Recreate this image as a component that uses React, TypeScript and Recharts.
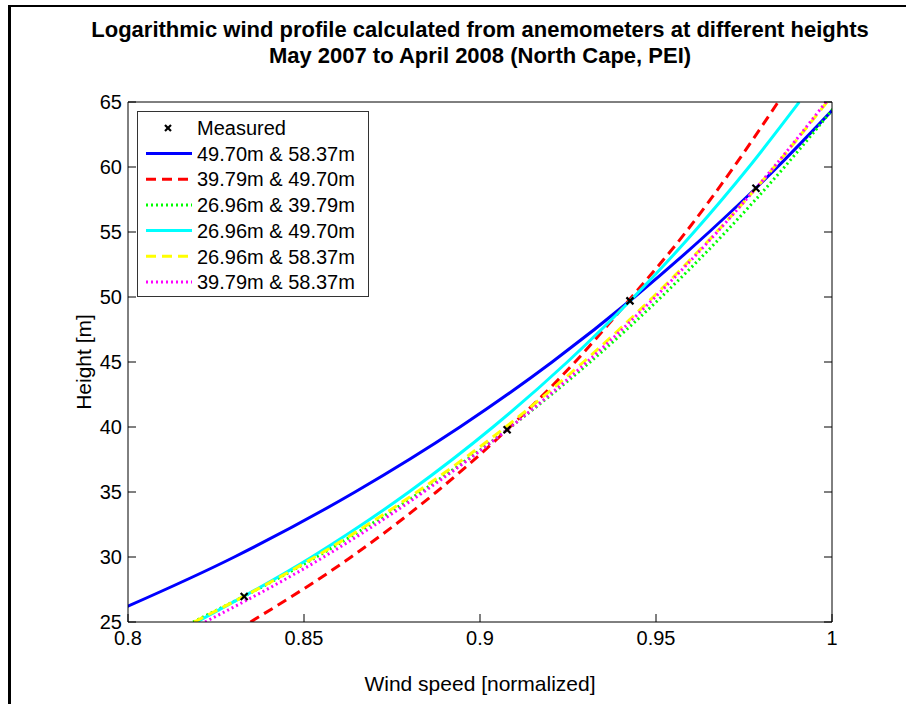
import React from 'react';
import {
  ComposedChart, Line, Scatter, XAxis, YAxis,
} from 'recharts';

// heights sampled along every curve [m]
const heights = [25, 30, 35, 40, 45, 50, 55, 60, 65];

// normalized wind speed, per height above
const fit4970_5837 = [0.7897, 0.8302, 0.8645, 0.8943, 0.9205, 0.9439, 0.9651, 0.9845, 1.0023];
const fit3979_4970 = [0.8348, 0.8634, 0.8876, 0.9085, 0.927, 0.9431, 0.9585, 0.9721, 0.9847];
const fit2696_3979 = [0.8185, 0.8535, 0.8831, 0.9087, 0.9313, 0.9515, 0.9698, 0.9865, 1.0019];
const fit2696_4970 = [0.8195, 0.8522, 0.8798, 0.9037, 0.9248, 0.9437, 0.9608, 0.9764, 0.9907];
const fit2696_5837 = [0.8188, 0.8531, 0.8821, 0.9073, 0.9294, 0.9492, 0.9672, 0.9836, 0.9986];
const fit3979_5837 = [0.8219, 0.8556, 0.884, 0.9087, 0.9304, 0.9498, 0.9674, 0.9835, 0.9983];

// anemometer readings
const measuredHeights = [26.96, 39.79, 49.7, 58.37];
const measuredSpeeds = [0.833, 0.9077, 0.9426, 0.9784];

const xTicks = [0.8, 0.85, 0.9, 0.95, 1];
const yTicks = [25, 30, 35, 40, 45, 50, 55, 60, 65];

const series = [
  { name: '49.70m & 58.37m', speeds: fit4970_5837, color: '#0000ff', dash: undefined },
  { name: '39.79m & 49.70m', speeds: fit3979_4970, color: '#ff0000', dash: '10 6' },
  { name: '26.96m & 39.79m', speeds: fit2696_3979, color: '#00ff00', dash: '2 3' },
  { name: '26.96m & 49.70m', speeds: fit2696_4970, color: '#00ffff', dash: undefined },
  { name: '26.96m & 58.37m', speeds: fit2696_5837, color: '#ffff00', dash: '10 6' },
  { name: '39.79m & 58.37m', speeds: fit3979_5837, color: '#ff00ff', dash: '2 3' },
];

const measured = measuredHeights.map((h, i) => ({ height: h, speed: measuredSpeeds[i] }));

const Cross = (props: any) => {
  const { cx, cy } = props;
  if (cx == null || cy == null) return null;
  return (
    <g stroke="#000" strokeWidth={2.2}>
      <line x1={cx - 3.5} y1={cy - 3.5} x2={cx + 3.5} y2={cy + 3.5} />
      <line x1={cx - 3.5} y1={cy + 3.5} x2={cx + 3.5} y2={cy - 3.5} />
    </g>
  );
};

const font = '"Liberation Sans", Arial, sans-serif';
const tickStyle = { fill: '#000', fontSize: 20 };
const blank = () => '';

const LegendBox = () => (
  <div
    style={{
      position: 'absolute', left: 137, top: 111, width: 230, height: 184,
      border: '1px solid #333', background: '#fff', fontSize: 20, color: '#000',
    }}
  >
    <svg width={230} height={184} style={{ position: 'absolute', left: 0, top: 0 }}>
      <g stroke="#000" strokeWidth={2.2}>
        <line x1={27} y1={13} x2={33} y2={19} />
        <line x1={27} y1={19} x2={33} y2={13} />
      </g>
      {series.map((s, i) => (
        <line
          key={s.name}
          x1={8} x2={54} y1={41.5 + i * 25.7} y2={41.5 + i * 25.7}
          stroke={s.color} strokeWidth={3} strokeDasharray={s.dash}
        />
      ))}
      <text x={59} y={23} fontSize={20} fontFamily={font}>Measured</text>
      {series.map((s, i) => (
        <text key={s.name} x={59} y={48.7 + i * 25.7} fontSize={20} fontFamily={font}>{s.name}</text>
      ))}
    </svg>
  </div>
);

export default function App() {
  return (
    <div style={{ position: 'absolute', left: 0, top: 0, width: 906, height: 704, background: '#fff', fontFamily: font }}>
      <div style={{ position: 'absolute', left: 8, top: 5, width: 898, height: 699, borderLeft: '3px solid #000', borderTop: '2px solid #000' }} />
      <div style={{ position: 'absolute', left: 0, width: 960, top: 17, textAlign: 'center', fontWeight: 'bold', fontSize: 22, lineHeight: '26px' }}>
        Logarithmic wind profile calculated from anemometers at different heights
        <br />
        May 2007 to April 2008 (North Cape, PEI)
      </div>
      <ComposedChart
        width={906}
        height={704}
        margin={{ top: 92, right: 64, bottom: 42, left: 68 }}
        style={{ position: 'absolute', left: 0, top: 0 }}
      >
        <XAxis
          dataKey="speed" type="number" domain={[0.8, 1]} ticks={xTicks} allowDataOverflow
          height={40} tickSize={-8} tickMargin={17} tick={tickStyle}
          axisLine={{ stroke: '#000' }} tickLine={{ stroke: '#000' }}
        />
        <XAxis
          xAxisId="top" orientation="top" type="number" domain={[0.8, 1]} ticks={xTicks} allowDataOverflow
          height={10} tickSize={-8} tickFormatter={blank}
          axisLine={{ stroke: '#000' }} tickLine={{ stroke: '#000' }}
        />
        <YAxis
          dataKey="height" type="number" domain={[25, 65]} ticks={yTicks} allowDataOverflow
          width={60} tickSize={-8} tickMargin={14} tick={tickStyle}
          axisLine={{ stroke: '#000' }} tickLine={{ stroke: '#000' }}
        />
        <YAxis
          yAxisId="right" orientation="right" type="number" domain={[25, 65]} ticks={yTicks} allowDataOverflow
          width={10} tickSize={-8} tickFormatter={blank}
          axisLine={{ stroke: '#000' }} tickLine={{ stroke: '#000' }}
        />
        {series.map((s) => (
          <Line
            key={s.name}
            name={s.name}
            data={heights.map((h, i) => ({ height: h, speed: s.speeds[i] }))}
            dataKey="height"
            type="monotone"
            stroke={s.color}
            strokeWidth={3}
            strokeDasharray={s.dash}
            dot={false}
            activeDot={false}
            isAnimationActive={false}
          />
        ))}
        <Scatter name="Measured" data={measured} dataKey="height" shape={<Cross />} isAnimationActive={false} />
      </ComposedChart>
      <div style={{ position: 'absolute', left: 0, width: 960, top: 672, textAlign: 'center', fontSize: 21 }}>
        Wind speed [normalized]
      </div>
      <div
        style={{
          position: 'absolute', left: 84, top: 362, fontSize: 21, whiteSpace: 'nowrap',
          transform: 'translate(-50%, -50%) rotate(-90deg)',
        }}
      >
        Height [m]
      </div>
      <LegendBox />
    </div>
  );
}
